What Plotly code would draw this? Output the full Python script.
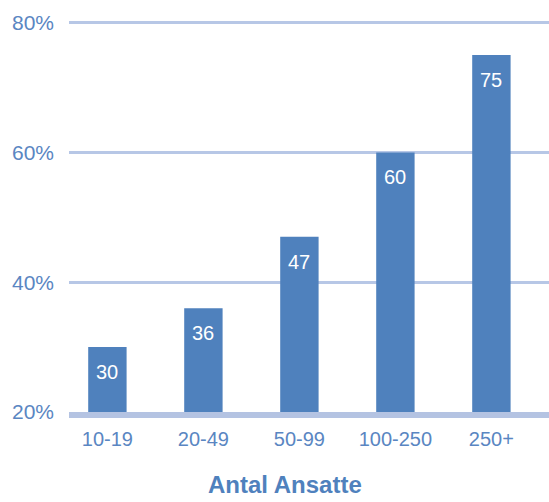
import plotly.graph_objects as go

categories = ["10-19", "20-49", "50-99", "100-250", "250+"]
values = [30, 36, 47, 60, 75]
y_ticks = [20, 40, 60, 80]
y_tick_labels = ["20%", "40%", "60%", "80%"]

bar_color = "#4F81BD"
text_color = "#5A86C2"
grid_color = "#B7C7E6"
font_family = "Liberation Sans, Arial, sans-serif"

fig = go.Figure()
fig.add_trace(go.Bar(
    x=categories, y=values, marker_color=bar_color,
    marker_line_width=0, width=0.4, hoverinfo="skip",
))

for c, v in zip(categories, values):
    fig.add_annotation(x=c, y=v, text=str(v), showarrow=False, yshift=-25,
                       yanchor="middle", font=dict(color="white", size=20,
                       family=font_family))

fig.add_annotation(xref="paper", yref="paper", x=0.449, y=-0.186, yanchor="middle",
                   text="<b>Antal Ansatte</b>", showarrow=False,
                   font=dict(color=bar_color, size=24, family=font_family))

fig.update_layout(
    width=549, height=502,
    margin=dict(l=69, r=0, t=20, b=90),
    plot_bgcolor="white", paper_bgcolor="white",
    showlegend=False,
    font=dict(family=font_family, color=text_color, size=20),
    xaxis=dict(range=[-0.4, 4.6], showgrid=False, showline=True,
               linecolor="#B4C3E2", linewidth=6, ticks="", ticklabelstandoff=4,
               tickfont=dict(size=20, color=text_color)),
    yaxis=dict(range=[20, 80.4], tickvals=y_ticks, ticktext=y_tick_labels,
               showgrid=True, gridcolor=grid_color, gridwidth=3,
               zeroline=False, showline=False, ticks="", ticklabelstandoff=14,
               tickfont=dict(size=21, color=text_color)),
    bargap=0.6,
)

fig.write_html("out.html")
